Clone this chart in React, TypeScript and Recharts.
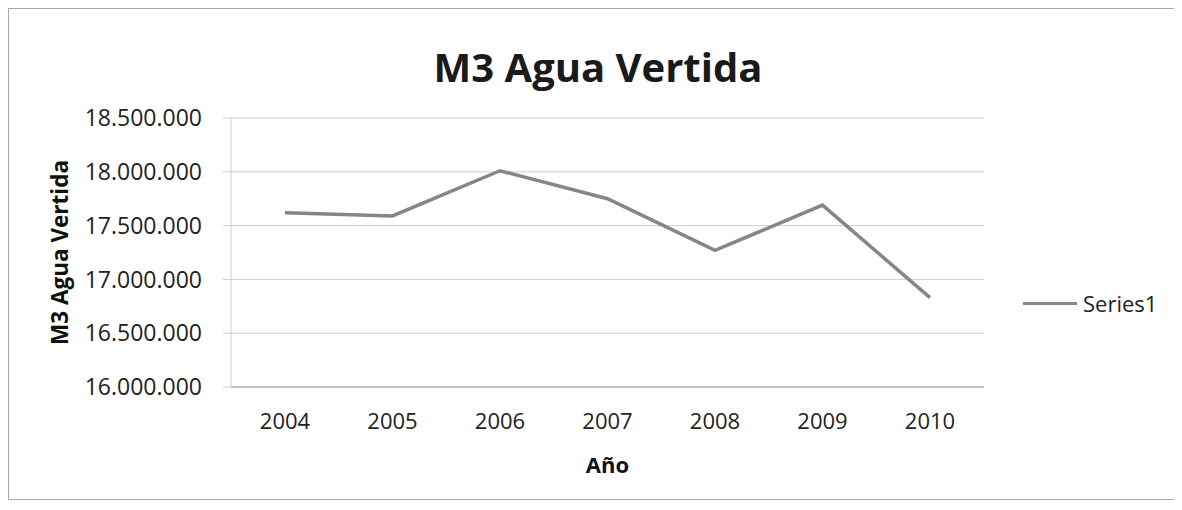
import { LineChart, XAxis, YAxis, CartesianGrid, Line, Legend } from "recharts"

const years = ["2004", "2005", "2006", "2007", "2008", "2009", "2010"]
const aguaVertida = [17620000, 17590000, 18010000, 17750000, 17270000, 17690000, 16830000]
const yTicks = [16000000, 16500000, 17000000, 17500000, 18000000, 18500000]

const datas = years.map((y, i) => ({ name: y, value: aguaVertida[i] }))

const font = "'Open Sans', 'Noto Sans', sans-serif"

function fmt(v: number) {
  return String(v).replace(/\B(?=(\d{3})+(?!\d))/g, ".")
}

function LegendBox() {
  return (
    <div style={{ display: "flex", alignItems: "center", paddingLeft: 39, width: 150, fontFamily: font, fontSize: 22, color: "#222" }}>
      <div style={{ width: 54, height: 3, background: "#888", marginRight: 6 }} />
      <span>Series1</span>
    </div>
  )
}

function App() {
  return (
    <div style={{ width: 1168, height: 490, border: "1px solid #a8a8a8", background: "#fff" }}>
      <LineChart
        width={1168}
        height={490}
        data={datas}
        margin={{ top: 109, right: 4, left: 0, bottom: 0 }}
        style={{ fontFamily: font }}
      >
        <text x={589} y={73} textAnchor="middle" fontFamily={font} fontWeight="bold" fontSize={40} fill="#1a1a1a">
          M3 Agua Vertida
        </text>
        <CartesianGrid stroke="#cfcfcf" vertical={false} />
        <XAxis
          dataKey="name"
          height={112}
          padding={{ left: 54, right: 54 }}
          tickLine={false}
          tickSize={6}
          tickMargin={20}
          axisLine={{ stroke: "#9a9a9a" }}
          tick={{ fill: "#222", fontSize: 22, fontFamily: font }}
          label={{ value: "Año", position: "center", dy: 22, fill: "#111", fontSize: 22, fontWeight: "bold", fontFamily: font }}
        />
        <YAxis
          width={222}
          domain={[16000000, 18500000]}
          ticks={yTicks}
          tickFormatter={fmt}
          tickSize={8}
          tickMargin={21}
          axisLine={{ stroke: "#d0d0d0" }}
          tickLine={{ stroke: "#cfcfcf" }}
          tick={{ fill: "#222", fontSize: 23, fontFamily: font }}
          label={{ value: "M3 Agua Vertida", angle: -90, position: "center", dx: -60, fill: "#111", fontSize: 22.5, fontWeight: "bold", fontFamily: font }}
        />
        <Legend
          layout="vertical"
          align="right"
          verticalAlign="middle"
          content={() => <LegendBox />}
          wrapperStyle={{ top: 279 }}
        />
        <Line
          type="linear"
          dataKey="value"
          name="Series1"
          stroke="#868686"
          strokeWidth={3.5}
          dot={false}
          isAnimationActive={false}
        />
      </LineChart>
    </div>
  )
}

export default App
